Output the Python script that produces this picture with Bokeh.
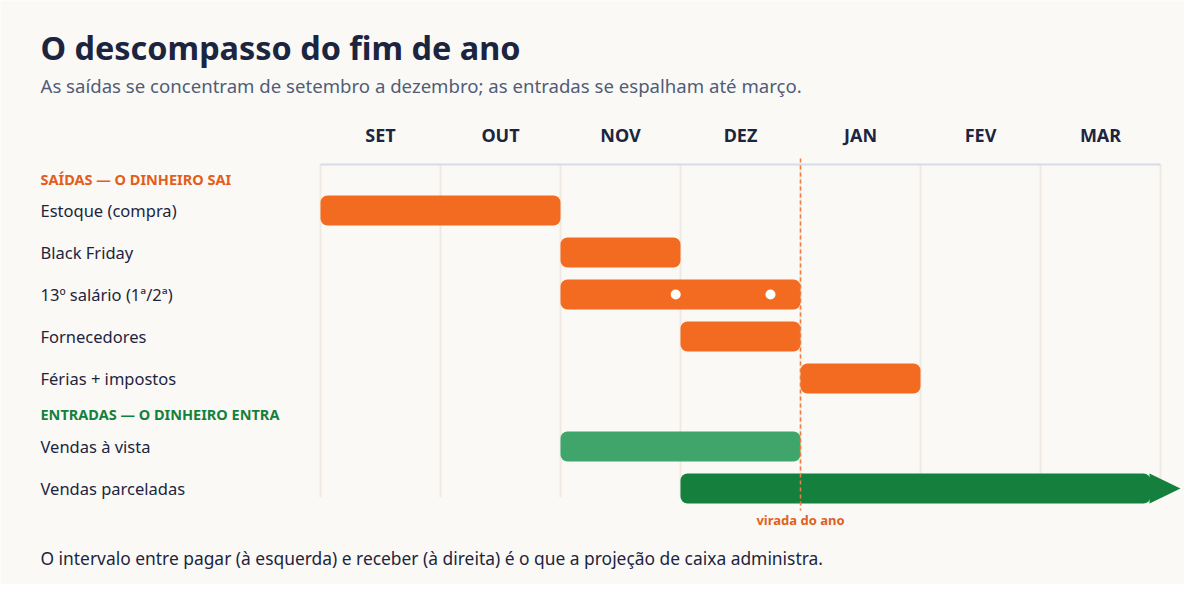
from bokeh.plotting import figure
from bokeh.models import Range1d
from bokeh.core.properties import value
from bokeh.embed import file_html
from bokeh.resources import INLINE

# --- data ---
months = ["SET", "OUT", "NOV", "DEZ", "JAN", "FEV", "MAR"]

out_labels = ["Estoque (compra)", "Black Friday", "13º salário (1ª/2ª)", "Fornecedores", "Férias + impostos"]
out_start = [0, 2, 2, 3, 4]
out_end = [2, 3, 4, 4, 5]

in_labels = ["Vendas à vista", "Vendas parceladas"]
in_start = [2, 3]
in_end = [4, 7]
in_colors = ["#3fa56b", "#15803d"]

# 13º salário: 1ª e 2ª parcela (position in months)
parcelas = [2.96, 3.75]
year_turn = 4

# --- style ---
BG = "#fbf9f5"
INK = "#1b2540"
ORANGE = "#f26b21"
FONT = value("Noto Sans")

W, H = 1184, 584
col_w = 120          # px per month
x0_px = 320          # left edge of SET in px


def mx(px):
    # pixel -> month units
    return (px - x0_px) / col_w


p = figure(width=W, height=H, output_backend="svg", toolbar_location=None,
           x_range=Range1d(mx(0), mx(W)), y_range=Range1d(H, 0),
           min_border=0)
p.axis.visible = False
p.grid.visible = False
p.outline_line_color = None
p.background_fill_color = BG
p.border_fill_color = BG

# title / subtitle
p.text(x=[mx(40)], y=[46], text=["O descompasso do fim de ano"], text_font=FONT,
       text_font_size="32.4px", text_font_style="bold", text_color=INK, text_baseline="alphabetic")
p.text(x=[mx(40)], y=[85], text=["As saídas se concentram de setembro a dezembro; as entradas se espalham até março."],
       text_font=FONT, text_font_size="18.6px", text_color="#4f5d78", text_baseline="alphabetic")

# month headers and grid
n = len(months)
p.text(x=[i + 0.5 for i in range(n)], y=[134] * n, text=months, text_font=FONT,
       text_font_size="18px", text_font_style="bold", text_color=INK, text_align="center",
       text_baseline="alphabetic")
p.segment(x0=list(range(n + 1)), y0=[164] * (n + 1), x1=list(range(n + 1)), y1=[497] * (n + 1),
          line_color="#efe9e2", line_width=2)
p.segment(x0=[0], y0=[164], x1=[n], y1=[164], line_color="#d6dce6", line_width=2)

# row positions
row_h = 42
out_y = [210 + i * row_h for i in range(len(out_labels))]
in_y = [446 + i * row_h for i in range(len(in_labels))]

# section headers
p.text(x=[mx(40)], y=[178], text=["SAÍDAS — O DINHEIRO SAI"], text_font=FONT, text_font_size="14.5px",
       text_font_style="bold", text_color="#e35d1c", text_baseline="middle")
p.text(x=[mx(40)], y=[413], text=["ENTRADAS — O DINHEIRO ENTRA"], text_font=FONT, text_font_size="14.5px",
       text_font_style="bold", text_color="#15803d", text_baseline="middle")

# row labels
p.text(x=[mx(40)] * (len(out_labels) + len(in_labels)), y=out_y + in_y, text=out_labels + in_labels,
       text_font=FONT, text_font_size="16.5px", text_color=INK, text_baseline="middle")

# bars
bar_h = 30
p.hbar(y=out_y, left=out_start, right=out_end, height=bar_h, fill_color=ORANGE,
       line_color=None, border_radius=7)
arrow_len = 30 / col_w
arrow_back = 10 / col_w
in_right = [e if e < len(months) else e - arrow_back for e in in_end]
p.hbar(y=in_y, left=in_start, right=in_right, height=bar_h, fill_color=in_colors,
       line_color=None, border_radius=7)
# arrow on the open-ended bar
last = len(in_labels) - 1
ax = in_right[last]
p.patch(x=[ax - 1 / col_w, ax + arrow_len, ax - 1 / col_w],
        y=[in_y[last] - bar_h / 2, in_y[last], in_y[last] + bar_h / 2],
        fill_color=in_colors[last], line_color=None)

# 13º parcel dots
p.scatter(x=parcelas, y=[out_y[2]] * len(parcelas), size=10, fill_color="white", line_color=None)

# year turn
p.segment(x0=[year_turn], y0=[158], x1=[year_turn], y1=[510], line_color="#f07b3f",
          line_width=1.5, line_dash="4 3")
p.text(x=[year_turn], y=[519], text=["virada do ano"], text_font=FONT, text_font_size="13px",
       text_font_style="bold", text_color="#e0601f", text_align="center", text_baseline="middle")

# footer
p.text(x=[mx(40)], y=[557], text=["O intervalo entre pagar (à esquerda) e receber (à direita) é o que a projeção de caixa administra."],
       text_font=FONT, text_font_size="17.4px", text_color=INK, text_baseline="alphabetic")

open("out.html", "w").write(file_html(p, INLINE))
